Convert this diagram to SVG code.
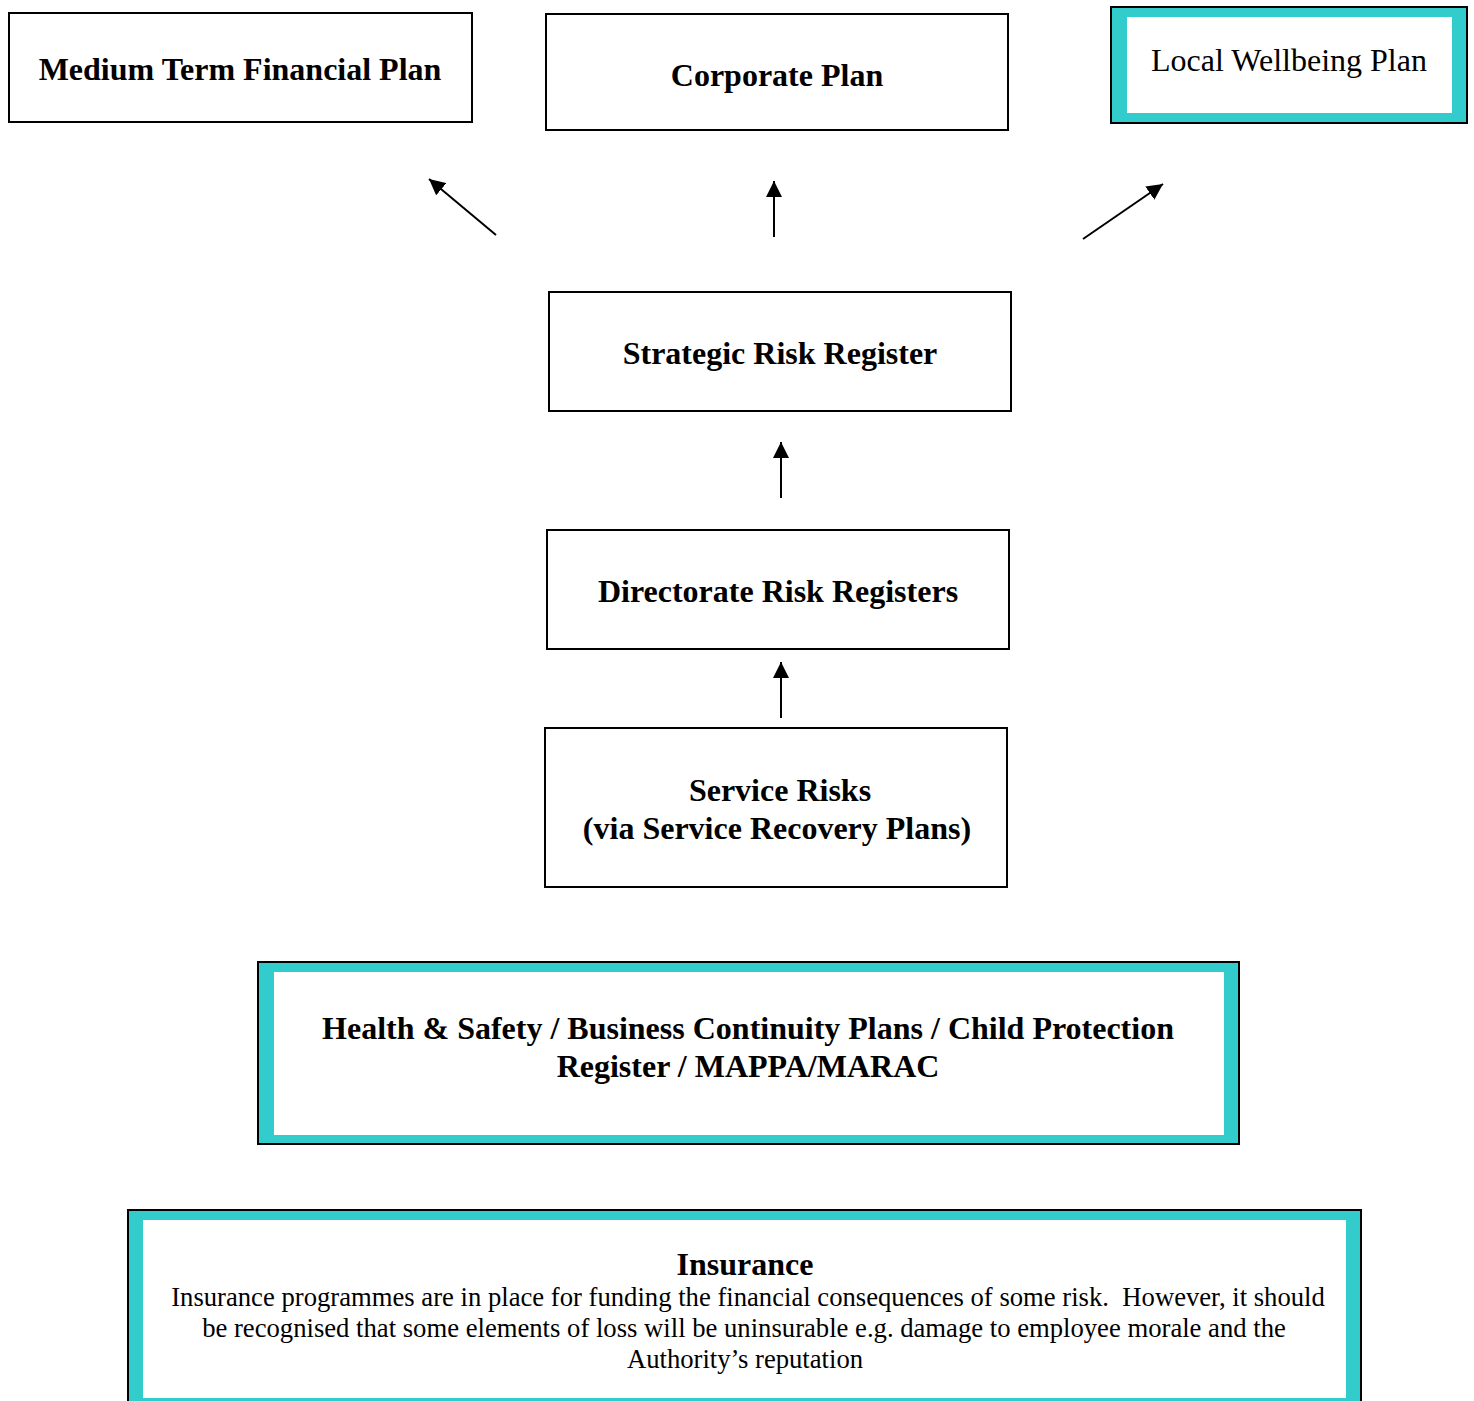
<svg xmlns="http://www.w3.org/2000/svg" width="1474" height="1401" viewBox="0 0 1474 1401">
<defs>
<style>
.box{fill:#ffffff;stroke:#000000;stroke-width:2}
.tealo{fill:#33cccc;stroke:#000000;stroke-width:2}
.inner{fill:#ffffff;stroke:none}
.b{font-family:"Liberation Serif","Times New Roman",serif;font-weight:bold;font-size:32px;fill:#000;text-anchor:middle}
.r{font-family:"Liberation Serif","Times New Roman",serif;font-size:32px;fill:#000;text-anchor:middle}
.s{font-family:"Liberation Serif","Times New Roman",serif;font-size:26.67px;fill:#000;text-anchor:middle;white-space:pre}
.conn{stroke:#000;stroke-width:2;fill:none;marker-end:url(#ah)}
</style>
<marker id="ah" markerUnits="userSpaceOnUse" markerWidth="17" markerHeight="16" refX="16" refY="8" orient="auto">
<path d="M0,0 L16,8 L0,16 z" fill="#000"/>
</marker>
</defs>
<rect width="1474" height="1401" fill="#ffffff"/>

<g id="mtfp">
<rect class="box" x="9" y="13" width="463" height="109"/>
<text class="b" x="240" y="80">Medium Term Financial Plan</text>
</g>

<g id="corporate">
<rect class="box" x="546" y="14" width="462" height="116"/>
<text class="b" x="777" y="86">Corporate Plan</text>
</g>

<g id="wellbeing">
<rect class="tealo" x="1111" y="7" width="356" height="116"/>
<rect class="inner" x="1127" y="17" width="325" height="96"/>
<text class="r" x="1289" y="71">Local Wellbeing Plan</text>
</g>

<g id="strategic">
<rect class="box" x="549" y="292" width="462" height="119"/>
<text class="b" x="780" y="364">Strategic Risk Register</text>
</g>

<g id="directorate">
<rect class="box" x="547" y="530" width="462" height="119"/>
<text class="b" x="778" y="602">Directorate Risk Registers</text>
</g>

<g id="service">
<rect class="box" x="545" y="728" width="462" height="159"/>
<text class="b" x="780" y="801">Service Risks</text>
<text class="b" x="777" y="839">(via Service Recovery Plans)</text>
</g>

<g id="healthsafety">
<rect class="tealo" x="258" y="962" width="981" height="182"/>
<rect class="inner" x="274" y="972" width="950" height="163"/>
<text class="b" x="748" y="1039">Health &amp; Safety / Business Continuity Plans / Child Protection</text>
<text class="b" x="748" y="1077">Register / MAPPA/MARAC</text>
</g>

<g id="insurance">
<rect class="tealo" x="128" y="1210" width="1233" height="200"/>
<rect class="inner" x="143" y="1220" width="1203" height="178"/>
<text class="b" x="745" y="1275">Insurance</text>
<text class="s" x="748" y="1306" xml:space="preserve">Insurance programmes are in place for funding the financial consequences of some risk.  However, it should</text>
<text class="s" x="744" y="1337">be recognised that some elements of loss will be uninsurable e.g. damage to employee morale and the</text>
<text class="s" x="745" y="1368">Authority’s reputation</text>
</g>

<g id="connectors">
<line class="conn" x1="496" y1="235" x2="429" y2="179"/>
<line class="conn" x1="774" y1="237" x2="774" y2="181"/>
<line class="conn" x1="1083" y1="239" x2="1163" y2="184"/>
<line class="conn" x1="781" y1="498" x2="781" y2="442"/>
<line class="conn" x1="781" y1="718" x2="781" y2="662"/>
</g>
</svg>
